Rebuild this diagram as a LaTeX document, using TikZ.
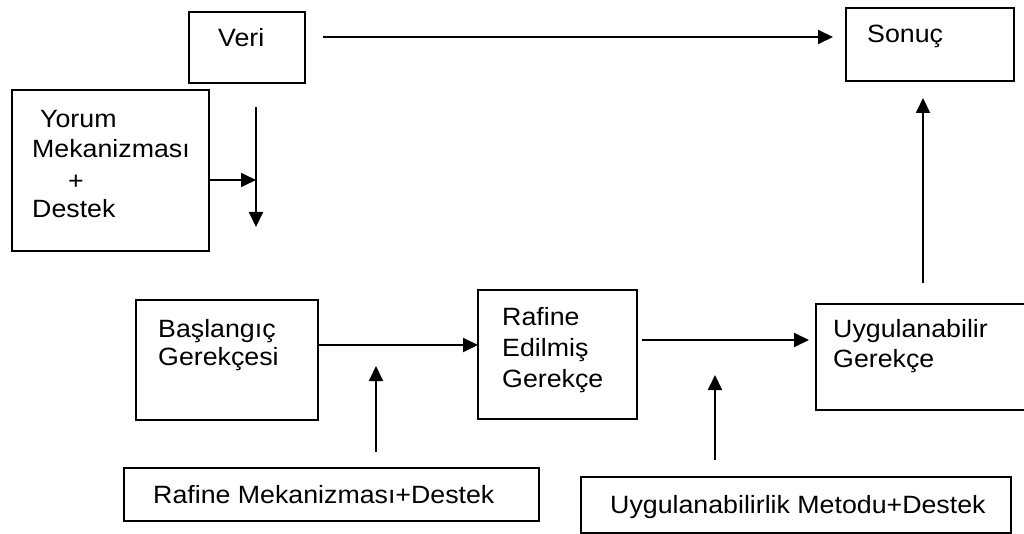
\documentclass[tikz,border=0pt]{standalone}
\usepackage{fontspec}
\setmainfont{Liberation Sans}[FakeStretch=1.07]
\usetikzlibrary{arrows.meta}
\begin{document}
\begin{tikzpicture}[x=1pt,y=-1pt,
  box/.style={draw,line width=1.9pt,inner sep=0pt,outer sep=0pt,anchor=north west},
  lbl/.style={anchor=base west,inner sep=0pt,font=\fontsize{25}{29}\selectfont},
  arr/.style={line width=1.9pt,-{Triangle[length=15pt,width=14pt]}}]
\fill[white] (0,0) rectangle (1024,534);
\useasboundingbox (0,0) rectangle (1024,534);

% boxes
\node[box,minimum width=116pt,minimum height=71pt] (veri) at (189,12) {};
\node[box,minimum width=168pt,minimum height=73pt] (sonuc) at (846,8) {};
\node[box,minimum width=197pt,minimum height=161pt] (yorum) at (12,90) {};
\node[box,minimum width=182pt,minimum height=120pt] (bas) at (136,300) {};
\node[box,minimum width=159pt,minimum height=129pt] (raf) at (478,290) {};
\node[box,minimum width=210pt,minimum height=106pt] (uyg) at (816,304) {};
\node[box,minimum width=415pt,minimum height=53pt] (rmd) at (124,468) {};
\node[box,minimum width=430pt,minimum height=56pt] (umd) at (581,477) {};

% labels
\node[lbl] (tveri) at (218,47) {Veri};
\node[lbl] (tsonuc) at (867,43) {Sonuç};
\node[lbl] (tyor1) at (40,128) {Yorum};
\node[lbl] (tyor2) at (32,158) {Mekanizması};
\node[lbl] (tyor3) at (68,190) {+};
\node[lbl] (tyor4) at (32,218) {Destek};
\node[lbl] (tbas1) at (158,337) {Başlangıç};
\node[lbl] (tbas2) at (158,365) {Gerekçesi};
\node[lbl] (traf1) at (502,325) {Rafine};
\node[lbl] (traf2) at (502,356) {Edilmiş};
\node[lbl] (traf3) at (502,387) {Gerekçe};
\node[lbl] (tuyg1) at (833,337) {Uygulanabilir};
\node[lbl] (tuyg2) at (833,367) {Gerekçe};
\node[lbl] (trmd) at (153,503) {Rafine Mekanizması+Destek};
\node[lbl] (tumd) at (610,513) {Uygulanabilirlik Metodu+Destek};

% connector end points
\coordinate (vs) at (323,37);
\coordinate (ve) at (833,37);
\coordinate (jn) at (256,180);
\coordinate (dtop) at (256,107);
\coordinate (dbot) at (256,227);
\coordinate (r1) at (0,345);
\coordinate (u1a) at (376,452);
\coordinate (u1b) at (376,366);
\coordinate (r2a) at (642,340);
\coordinate (r2b) at (809,340);
\coordinate (u2a) at (715,460);
\coordinate (u2b) at (715,375);
\coordinate (u3a) at (923,283);
\coordinate (u3b) at (923,98);

% connectors
\draw[arr] (vs) -- (ve);
\draw[arr] (yorum.east |- jn) -- (jn);
\draw[arr] (dtop) -- (dbot);
\draw[arr] (bas.east |- r1) -- (raf.west |- r1);
\draw[arr] (u1a) -- (u1b);
\draw[arr] (r2a) -- (r2b);
\draw[arr] (u2a) -- (u2b);
\draw[arr] (u3a) -- (u3b);
\end{tikzpicture}
\end{document}
